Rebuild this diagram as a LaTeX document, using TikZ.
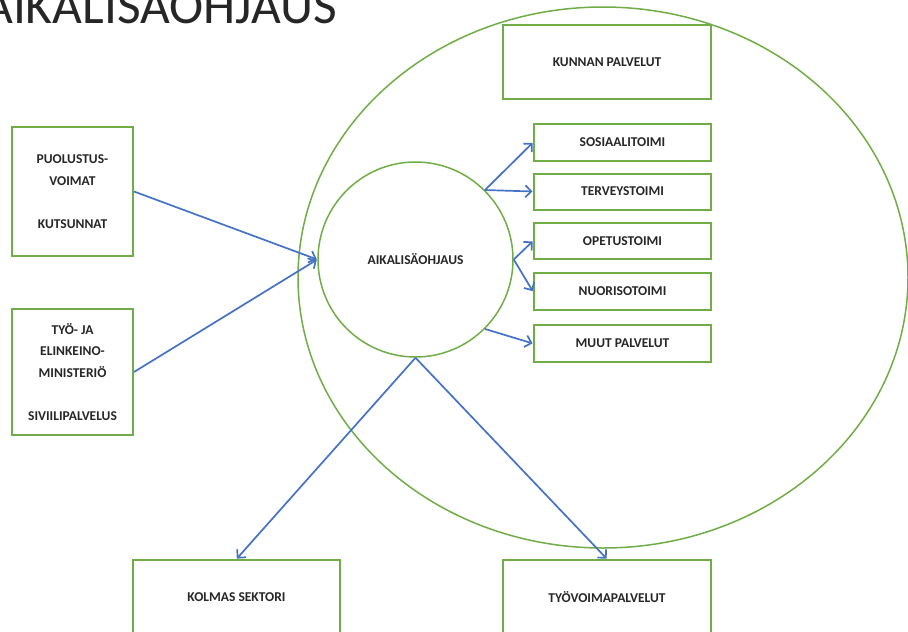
\documentclass[tikz,border=0pt]{standalone}
\usepackage{fontspec}
\setmainfont{Carlito}
\usetikzlibrary{arrows.meta,shapes.geometric}
\definecolor{boxgreen}{RGB}{112,173,71}
\definecolor{arrowblue}{RGB}{68,114,196}
\tikzset{
  gbox/.style={draw=boxgreen, line width=2pt, rectangle, inner sep=0pt, align=center,
    font=\fontsize{13.5}{21.5}\selectfont\bfseries, text=black!85},
  gcirc/.style={draw=boxgreen, line width=1.5pt},
  conn/.style={draw=arrowblue, line width=1.7pt, -{Straight Barb[length=6pt,width=12pt,line width=1.7pt]}, shorten >=0.5pt}
}
\begin{document}
\begin{tikzpicture}[x=1pt,y=-1pt]
\useasboundingbox (0,0) rectangle (908,632);
\clip (0,0) rectangle (908,632);
% title
\node[anchor=base west, inner sep=0pt, font=\fontsize{51.5}{51.5}\selectfont, text=black!85] (title) at (-17,23) {AIKALISÄOHJAUS};
% big ellipse
\node[gcirc, ellipse, minimum width=610pt, minimum height=541pt, inner sep=0pt] (outer) at (603,277.5) {};
% inner circle
\node[gcirc, circle, minimum size=195pt, inner sep=0pt, font=\fontsize{13.5}{15}\selectfont\bfseries, text=black!85] (circ) at (415.5,259.5) {AIKALISÄOHJAUS};
% boxes
\node[gbox, minimum width=208pt, minimum height=74pt] (kunnan) at (607,62) {KUNNAN PALVELUT};
\node[gbox, minimum width=177pt, minimum height=37pt] (sos) at (622.5,142.5) {SOSIAALITOIMI};
\node[gbox, minimum width=177pt, minimum height=36pt] (ter) at (622.5,191.5) {TERVEYSTOIMI};
\node[gbox, minimum width=177pt, minimum height=36pt] (ope) at (622.5,241) {OPETUSTOIMI};
\node[gbox, minimum width=177pt, minimum height=37pt] (nuo) at (622.5,291.5) {NUORISOTOIMI};
\node[gbox, minimum width=177pt, minimum height=37pt] (muu) at (622.5,343.5) {MUUT PALVELUT};
\node[gbox, minimum width=121pt, minimum height=129pt] (puol) at (72.5,191.5) {PUOLUSTUS-\\VOIMAT\\[21.5pt]KUTSUNNAT};
\node[gbox, minimum width=121pt, minimum height=126pt] (tyo) at (72.5,372) {TYÖ- JA\\ELINKEINO-\\MINISTERIÖ\\[21.5pt]SIVIILIPALVELUS};
\node[gbox, minimum width=207pt, minimum height=74pt] (kolmas) at (236.5,597) {KOLMAS SEKTORI};
\node[gbox, minimum width=208pt, minimum height=74pt] (tyov) at (607,597) {TYÖVOIMAPALVELUT};
% connectors
\draw[conn] (puol.east) -- (circ.west);
\draw[conn] (tyo.east) -- (circ.west);
\draw[conn] (circ.45) -- (sos.west);
\draw[conn] (circ.45) -- (ter.west);
\draw[conn] (circ.east) -- (ope.west);
\draw[conn] (circ.east) -- (nuo.west);
\draw[conn] (circ.-45) -- (muu.west);
\draw[conn] (circ.south) -- (kolmas.north);
\draw[conn] (circ.south) -- (tyov.north);
\end{tikzpicture}
\end{document}
